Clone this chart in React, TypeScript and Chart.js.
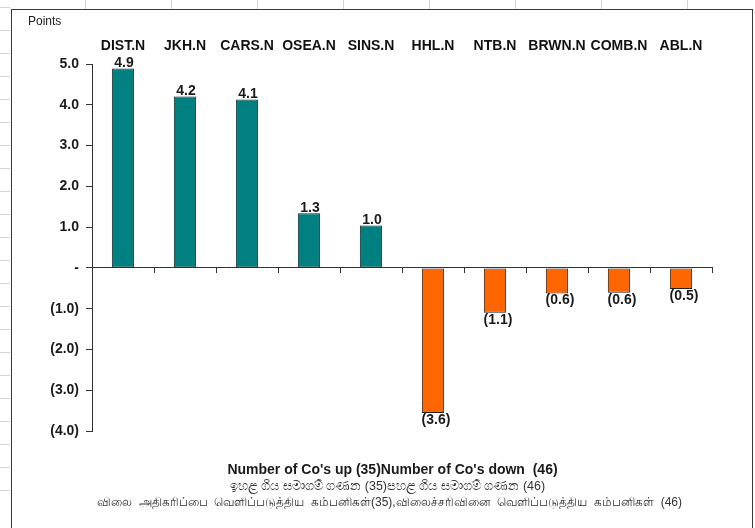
import React, { useEffect, useRef } from "react";
import { Chart, registerables } from "chart.js";

Chart.register(...registerables);

const categories = ["DIST.N", "JKH.N", "CARS.N", "OSEA.N", "SINS.N", "HHL.N", "NTB.N", "BRWN.N", "COMB.N", "ABL.N"];
const values = [4.89, 4.2, 4.13, 1.34, 1.04, -3.56, -1.1, -0.63, -0.61, -0.52];
const upColor = "#008080";
const downColor = "#FF6600";
const yMin = -4;
const yMax = 5;
const yLabel = "Points";
const footLine1 = "Number of Co's up (35)Number of Co's down  (46)";
const footLine2 = "ඉහළ ගිය සමාගම් ගණන (35)පහළ ගිය සමාගම් ගණන (46)";
const footLine3 = "விலை  அதிகரிப்பை  வெளிப்படுத்திய  கம்பனிகள்(35),விலைச்சரிவினை  வெளிப்படுத்திய  கம்பனிகள்  (46)";

const FONT = "'Liberation Sans', Arial, sans-serif";

function fmt(v: number): string {
  if (Math.abs(v) < 1e-9) return "-";
  if (v < 0) return "(" + (-v).toFixed(1) + ")";
  return v.toFixed(1);
}

const labelPlugin = {
  id: "barLabels",
  afterDatasetsDraw(chart: any) {
    const ctx = chart.ctx;
    const meta = chart.getDatasetMeta(0);
    ctx.save();
    ctx.font = "bold 14px " + FONT;
    ctx.fillStyle = "#1a1a1a";
    ctx.textAlign = "center";
    meta.data.forEach((el: any, i: number) => {
      const v = values[i];
      if (v >= 0) {
        ctx.textBaseline = "bottom";
        ctx.fillText(fmt(v), el.x + 1, el.y + 2);
      } else {
        ctx.textBaseline = "top";
        ctx.fillText(fmt(v), el.x + 3, el.y);
      }
    });
    ctx.restore();
  },
};

export default function App() {
  const ref = useRef<HTMLCanvasElement | null>(null);
  useEffect(() => {
    if (!ref.current) return;
    const chart = new Chart(ref.current, {
      type: "bar",
      data: {
        labels: categories,
        datasets: [
          {
            data: values,
            backgroundColor: values.map((v) => (v >= 0 ? upColor : downColor)),
            borderColor: "#222",
            borderWidth: 1,
            borderSkipped: false,
            categoryPercentage: 1,
            barPercentage: 0.36,
            xAxisID: "x",
          },
        ],
      },
      options: {
        animation: false,
        responsive: false,
        maintainAspectRatio: false,
        layout: { padding: { left: 0, top: 0, right: 43, bottom: 97 } },
        plugins: { legend: { display: false }, tooltip: { enabled: false }, title: { display: false } },
        scales: {
          x: {
            type: "category",
            position: { y: 0 } as any,
            ticks: { display: false },
            grid: { display: true, drawOnChartArea: false, drawTicks: true, tickLength: 5, color: "#333", offset: true },
            border: { display: true, color: "#333", width: 1 },
          },
          x2: {
            type: "category",
            position: "top",
            labels: categories,
            offset: true,
            ticks: {
              font: { family: FONT, size: 14, weight: "bold" },
              color: "#111",
              padding: 9,
              maxRotation: 0,
              minRotation: 0,
              autoSkip: false,
            },
            grid: { display: false, drawTicks: false },
            border: { display: false },
            afterFit: (s: any) => {
              s.height = 64;
            },
          },
          y: {
            min: yMin,
            max: yMax,
            ticks: {
              stepSize: 1,
              font: { family: FONT, size: 14, weight: "bold" },
              color: "#1a1a1a",
              padding: 7,
              callback: (v: any) => fmt(Number(v)),
            },
            grid: { display: true, drawOnChartArea: false, drawTicks: true, tickLength: 6, color: "#333" },
            border: { display: true, color: "#333", width: 1 },
            afterFit: (s: any) => {
              s.width = 92;
            },
          },
        },
      },
      plugins: [labelPlugin],
    });
    return () => chart.destroy();
  }, []);

  return (
    <div style={{ position: "fixed", left: 0, top: 0, width: 755, height: 528, background: "#fff", overflow: "hidden", fontFamily: FONT }}>
      <div
        style={{
          position: "absolute",
          left: 0,
          top: 0,
          width: 755,
          height: 9,
          backgroundImage: "repeating-linear-gradient(to right, transparent 0px, transparent 85px, #d4d4d4 85px, #d4d4d4 86px)",
        }}
      />
      <div
        style={{
          position: "absolute",
          left: 0,
          top: 0,
          width: 10,
          height: 528,
          backgroundImage: "repeating-linear-gradient(to bottom, transparent 0px, transparent 22px, #d4d4d4 22px, #d4d4d4 23px)",
          backgroundPosition: "0 -15px",
        }}
      />
      <div style={{ position: "absolute", left: 11, top: 9, width: 740, height: 540, border: "1px solid #3a3a3a", background: "#fff" }} />
      <canvas ref={ref} width={755} height={528} style={{ position: "absolute", left: 0, top: 0, width: 755, height: 528 }} />
      <div style={{ position: "absolute", left: 28, top: 14, fontSize: 12, color: "#222" }}>{yLabel}</div>
      <div style={{ position: "absolute", left: 0, width: 785, top: 461, textAlign: "center", fontSize: 14, fontWeight: "bold", color: "#1a1a1a", whiteSpace: "pre" }}>
        {footLine1}
      </div>
      <div style={{ position: "absolute", left: 0, width: 775, top: 479, textAlign: "center", fontSize: 12.5, color: "#333", whiteSpace: "pre" }}>
        {footLine2}
      </div>
      <div style={{ position: "absolute", left: 0, width: 779, top: 495, textAlign: "center", fontSize: 12, color: "#333", whiteSpace: "pre" }}>
        {footLine3}
      </div>
    </div>
  );
}
